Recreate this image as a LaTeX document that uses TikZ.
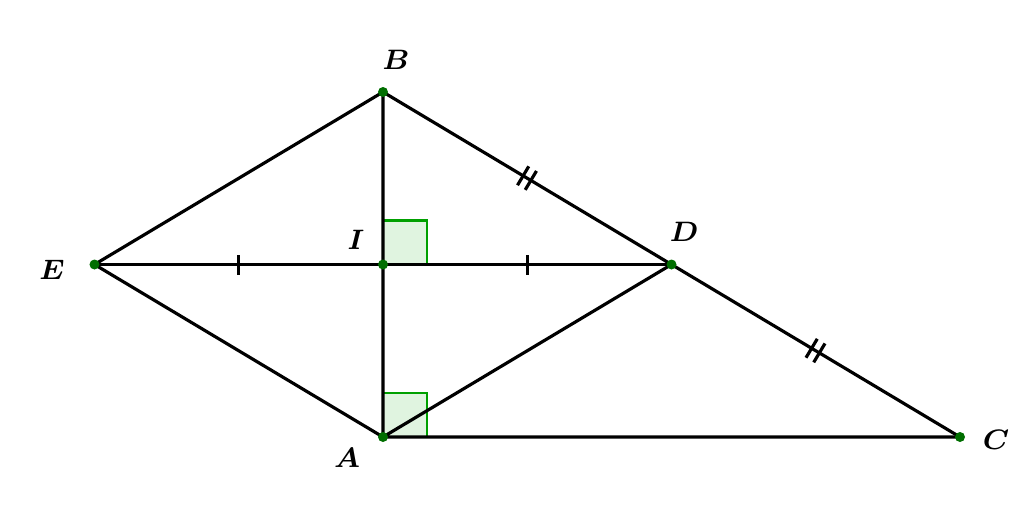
\documentclass[tikz,border=0pt]{standalone}
\usepackage{amsmath}
\usetikzlibrary{calc,decorations.markings}
\definecolor{ptgreen}{RGB}{0,110,0}
\definecolor{anggreen}{RGB}{0,160,0}
\tikzset{
	seg/.style={line width=0.9pt},
	dot/.style={circle, fill=ptgreen, inner sep=0pt, minimum size=0.1cm},
	rightang/.style={draw=anggreen, fill=anggreen!12, line width=0.8pt},
	lbl/.style={font=\footnotesize},
	onetick/.style={postaction={decorate,decoration={markings,
		mark=at position 0.5 with {\draw[seg] (0,-0.1)--(0,0.1);}}}},
	twoticks/.style={postaction={decorate,decoration={markings,
		mark=at position 0.5 with {\draw[seg] (-0.045,-0.11)--(-0.045,0.11) (0.045,-0.11)--(0.045,0.11);}}}}
}
\begin{document}
\begin{tikzpicture}
	\useasboundingbox (0,0) rectangle (10.24,5.07);

	%% points
	\coordinate (A) at (3.83,0.70);
	\coordinate (B) at (3.83,4.15);
	\coordinate (C) at (9.60,0.70);
	\coordinate (D) at ($(B)!0.5!(C)$);
	\coordinate (I) at ($(A)!0.5!(B)$);
	\coordinate (E) at ($(D)!2!(I)$);

	%% right angles
	\draw[rightang] (I) rectangle ++(0.44,0.44);
	\draw[rightang] (A) rectangle ++(0.44,0.44);

	%% sides
	\draw[seg] (E)--(B)--(A)--cycle;
	\draw[seg] (A)--(C)(A)--(D);
	\draw[seg,twoticks] (B)--(D);
	\draw[seg,twoticks] (D)--(C);
	\draw[seg,onetick] (E)--(I);
	\draw[seg,onetick] (I)--(D);

	%% dots
	\node[dot] at (A)(pA){};
	\node[dot] at (B)(pB){};
	\node[dot] at (C)(pC){};
	\node[dot] at (D)(pD){};
	\node[dot] at (E)(pE){};
	\node[dot] at (I)(pI){};

	%% labels
	\node[lbl] at (3.96,4.47)(lB){$\boldsymbol{B}$};
	\node[lbl] at (3.56,2.67)(lI){$\boldsymbol{I}$};
	\node[lbl] at (6.84,2.75)(lD){$\boldsymbol{D}$};
	\node[lbl] at (0.52,2.37)(lE){$\boldsymbol{E}$};
	\node[lbl] at (3.47,0.49)(lA){$\boldsymbol{A}$};
	\node[lbl] at (9.96,0.67)(lC){$\boldsymbol{C}$};
\end{tikzpicture}
\end{document}
